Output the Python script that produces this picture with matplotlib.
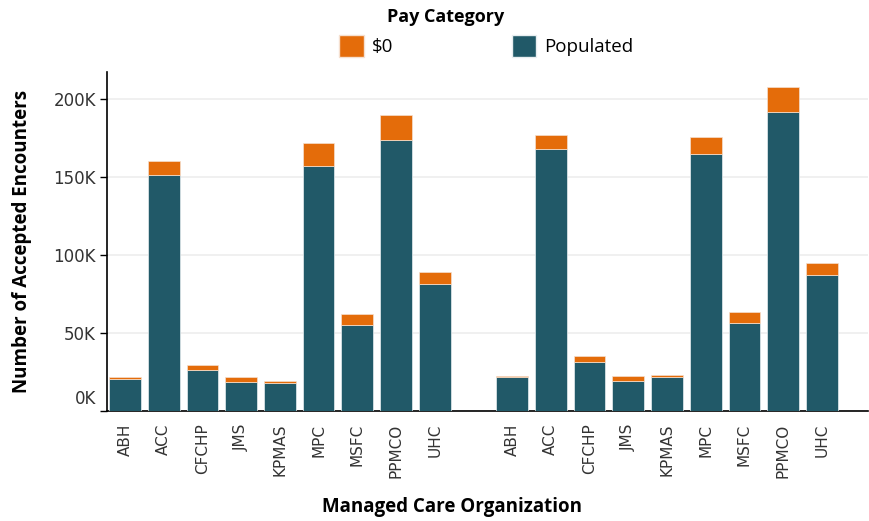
import numpy as np
import matplotlib
matplotlib.use('Agg')
import matplotlib.pyplot as plt
import matplotlib.transforms as mtransforms
from matplotlib.patches import Patch

mcos = ['ABH', 'ACC', 'CFCHP', 'JMS', 'KPMAS', 'MPC', 'MSFC', 'PPMCO', 'UHC']

# values in thousands, two panels side by side
populated_1 = [20.5, 150.8, 26.1, 18.4, 18.1, 156.6, 55.1, 173.3, 81.2]
zero_1 = [1.1, 9.2, 3.2, 3.2, 1.1, 15.0, 6.9, 16.2, 7.7]
populated_2 = [21.6, 167.7, 31.6, 19.2, 21.6, 164.3, 56.4, 191.5, 87.0]
zero_2 = [1.0, 9.2, 3.4, 3.4, 1.2, 11.3, 6.8, 16.0, 7.7]

c_pop = '#215968'
c_zero = '#e46c0a'

fig = plt.figure(figsize=(8.7, 5.21), dpi=100)
ax = fig.add_axes([0.123, 0.2111, 0.875, 0.6507])

x1 = np.arange(len(mcos))
x2 = x1 + len(mcos) + 1
w = 0.82
for xs, pop, zer in [(x1, populated_1, zero_1), (x2, populated_2, zero_2)]:
    pop = np.array(pop) * 1000
    zer = np.array(zer) * 1000
    ax.bar(xs, pop, w, color=c_pop, edgecolor='#e8eef0', linewidth=0.5, zorder=3)
    ax.bar(xs, zer, w, bottom=pop, color=c_zero, edgecolor='#f5e0d0', linewidth=0.5, zorder=3)

ax.set_xlim(-0.465, 19.2)
ax.set_ylim(0, 217000)
ax.set_xticks(np.concatenate([x1, x2]))
ax.set_xticklabels(mcos + mcos, rotation=90, fontsize=11, color='#333333', family='DejaVu Sans')
ax.tick_params(axis='x', length=0, pad=9)
ax.set_yticks([0, 50000, 100000, 150000, 200000])
ax.set_yticklabels(['0K', '50K', '100K', '150K', '200K'], fontsize=12, color='#333333',
                   family='DejaVu Sans')
ax.tick_params(axis='y', length=5, width=1, pad=3)
ax.yaxis.grid(True, color='#eeeeee', linewidth=1.2, zorder=0)
ax.set_axisbelow(True)

# first y label sits above its tick
lab0 = ax.get_yticklabels()[0]
lab0.set_transform(lab0.get_transform() + mtransforms.ScaledTranslation(0, 14 / 100, fig.dpi_scale_trans))

for s in ['top', 'right']:
    ax.spines[s].set_visible(False)
ax.spines['left'].set_linewidth(1.2)
ax.spines['bottom'].set_linewidth(1.2)

ax.set_ylabel('Number of Accepted Encounters', fontsize=13.5, fontweight='bold',
              family='Open Sans')
ax.yaxis.set_label_coords(-0.098, 0.5)
fig.text(0.52, 0.027, 'Managed Care Organization', fontsize=13.5, fontweight='bold',
         family='Open Sans', ha='center', va='center')

fig.text(0.512, 0.967, 'Pay Category', fontsize=13, fontweight='bold', family='Open Sans',
         ha='center', va='center')
handles = [Patch(facecolor=c_zero, edgecolor='#f5e0d0', label='$0'),
           Patch(facecolor=c_pop, edgecolor='#e8eef0', label='Populated')]
fig.legend(handles=handles, loc='center', bbox_to_anchor=(0.559, 0.912), ncol=2,
           frameon=False, handlelength=1.3, handleheight=1.4, columnspacing=6.3,
           handletextpad=0.45, prop={'family': 'Open Sans', 'size': 13.5})

fig.savefig('out.png', dpi=100)
